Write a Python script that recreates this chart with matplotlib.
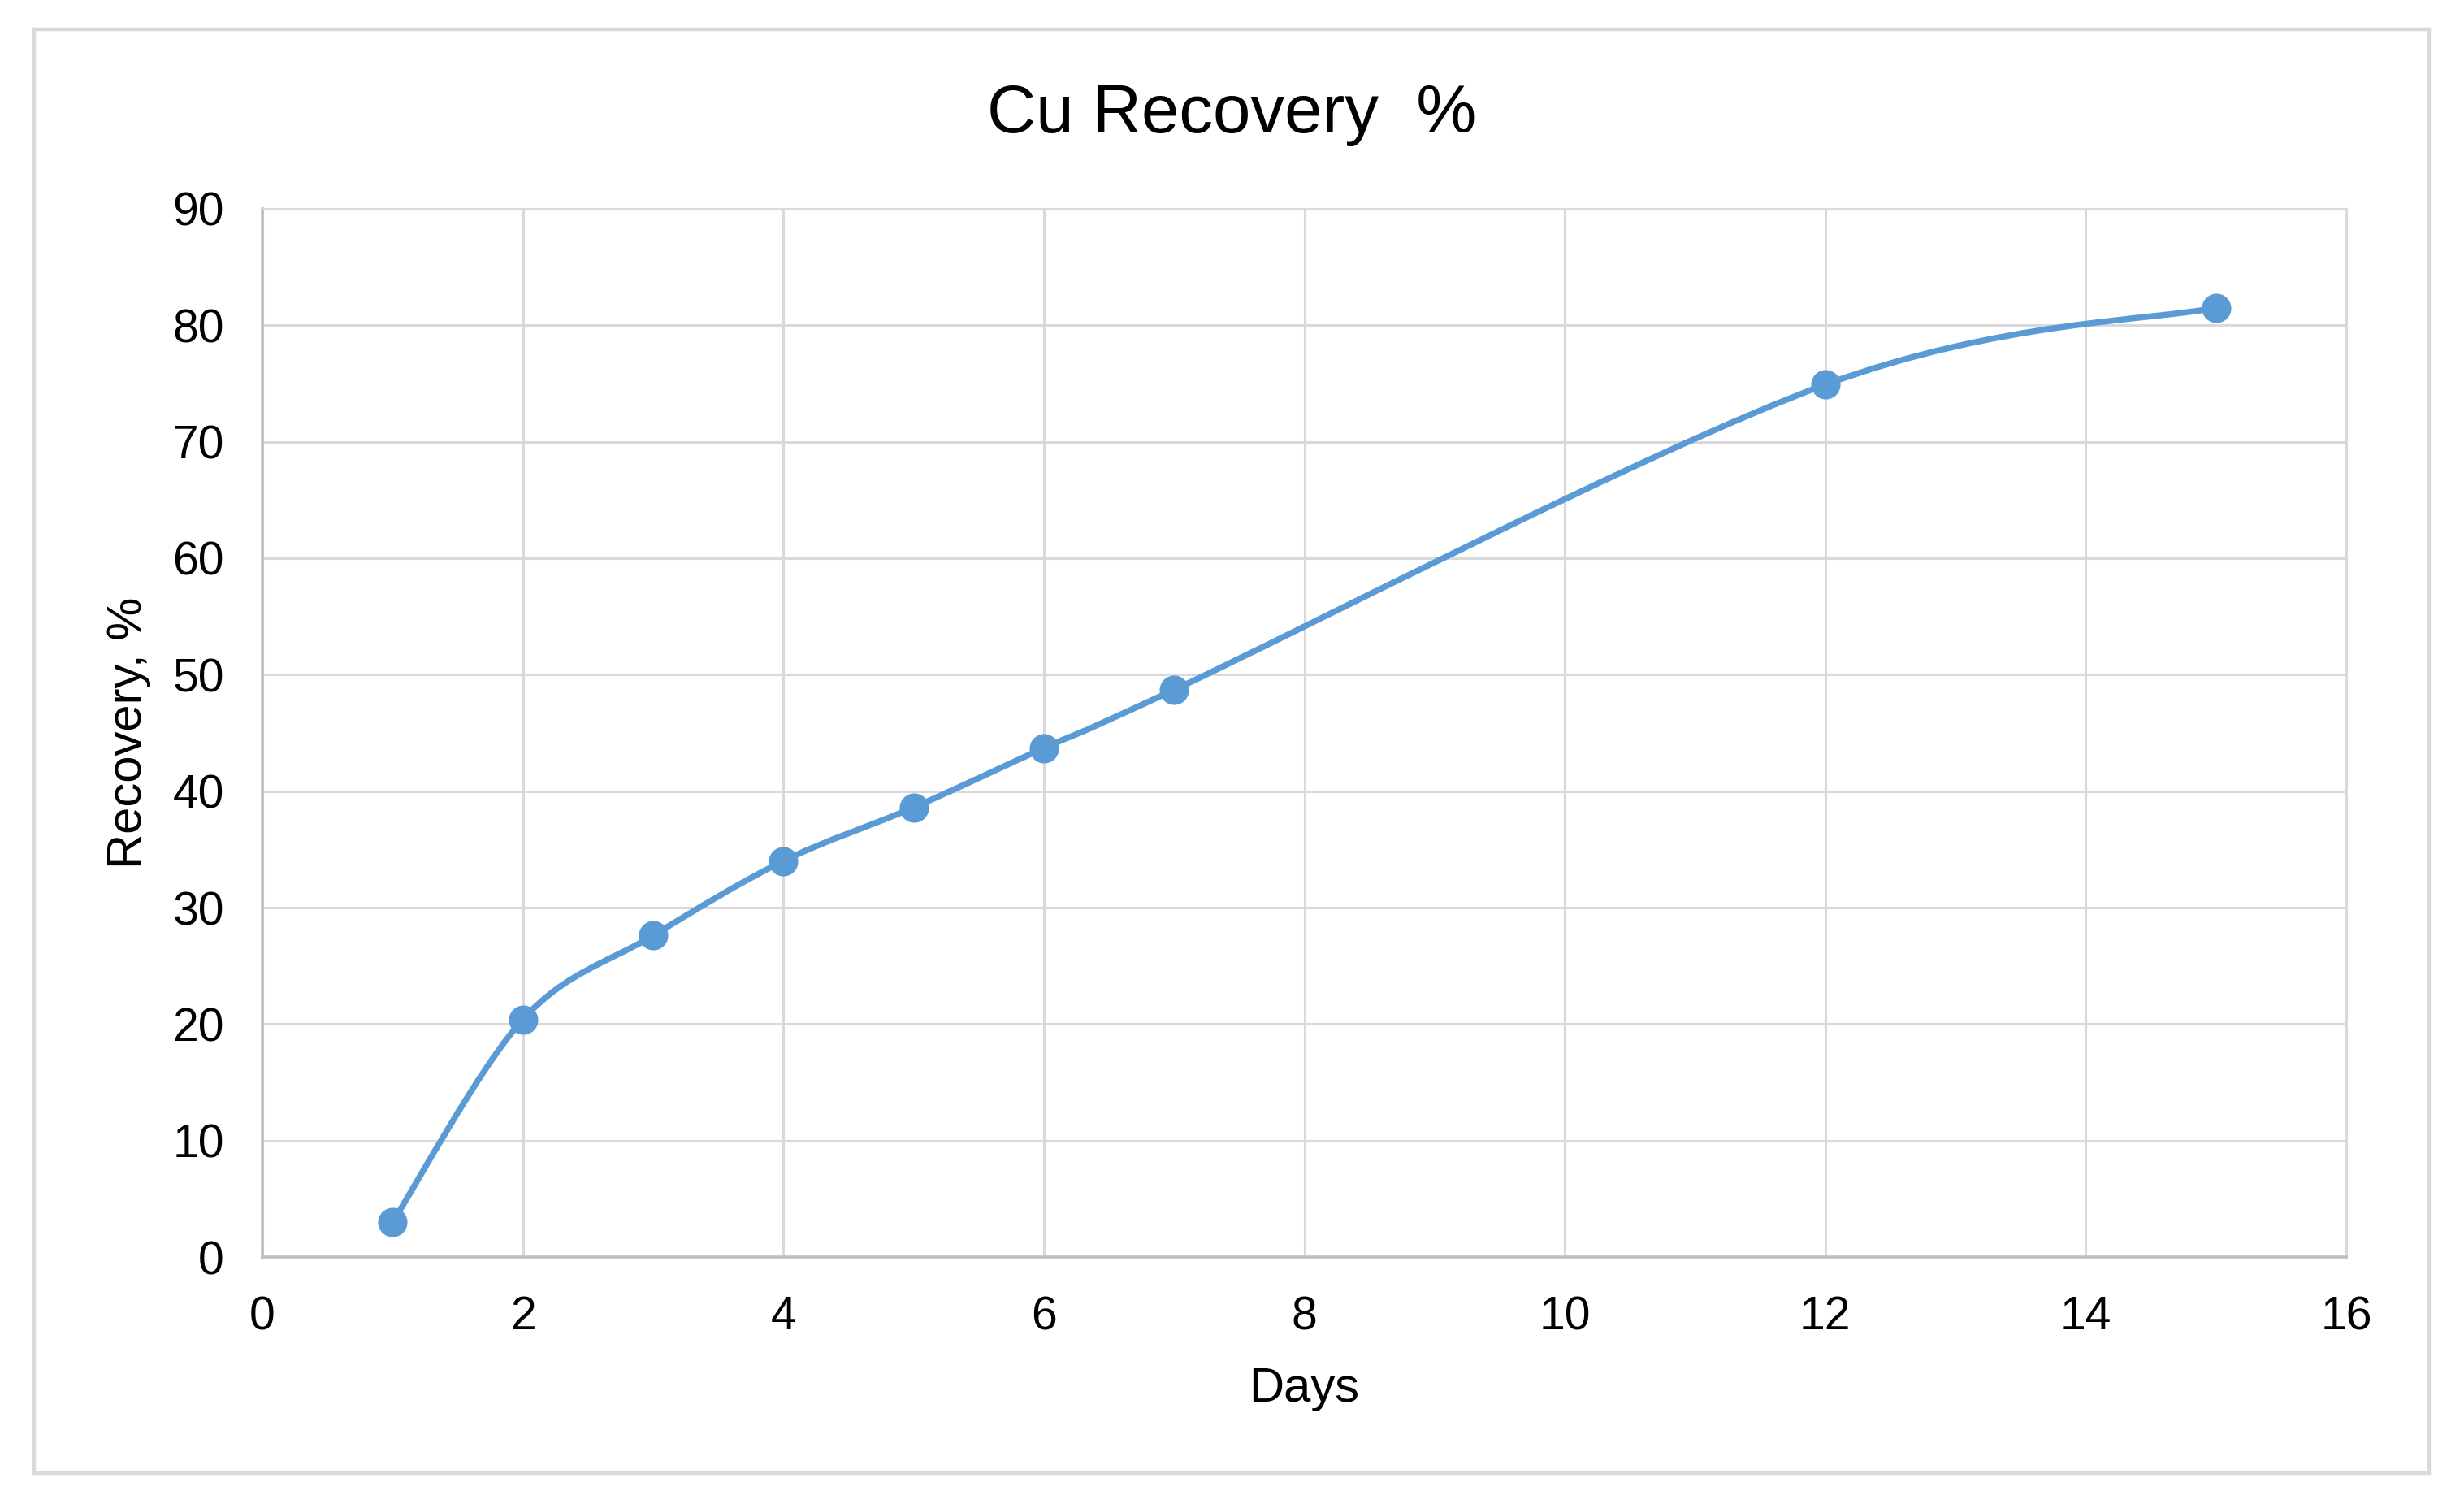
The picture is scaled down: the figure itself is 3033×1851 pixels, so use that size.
"""Cu recovery vs. leaching days, smoothed line with markers (Excel style)."""

import matplotlib
matplotlib.use("Agg")
import matplotlib.pyplot as plt
import numpy as np
from matplotlib.patches import PathPatch, Rectangle
from matplotlib.path import Path

plt.rcParams["font.family"] = ["Liberation Sans", "DejaVu Sans"]

# data
days = [1, 2, 3, 4, 5, 6, 7, 12, 15]
recovery = [3.0, 20.4, 27.6, 34.0, 38.6, 43.7, 48.7, 74.9, 81.5]

x_ticks = [0, 2, 4, 6, 8, 10, 12, 14, 16]
y_ticks = [0, 10, 20, 30, 40, 50, 60, 70, 80, 90]

LINE_BLUE = "#5B9BD5"
GRID_GREY = "#D9D9D9"


def smooth_path(xs, ys):
    """Catmull-Rom style bezier through the points (similar to Excel's smoothed line)."""
    pts = np.column_stack([xs, ys]).astype(float)
    verts = [pts[0]]
    codes = [Path.MOVETO]
    n = len(pts)
    for i in range(n - 1):
        p0 = pts[max(i - 1, 0)]
        p1 = pts[i]
        p2 = pts[i + 1]
        p3 = pts[min(i + 2, n - 1)]
        c1 = p1 + (p2 - p0) / 6.0
        c2 = p2 - (p3 - p1) / 6.0
        verts += [c1, c2, p2]
        codes += [Path.CURVE4] * 3
    return Path(verts, codes)


fig = plt.figure(figsize=(15.165, 9.255), dpi=200)
ax = fig.add_axes([0.1065, 0.1642, 0.8457, 0.6970])

# outer chart frame
fig.patches.append(Rectangle((0.014, 0.0205), 0.9718, 0.9600, transform=fig.transFigure,
                             fill=False, edgecolor=GRID_GREY, linewidth=1.6))

ax.add_patch(PathPatch(smooth_path(days, recovery), facecolor="none",
                       edgecolor=LINE_BLUE, linewidth=2.7, zorder=3, capstyle="round"))
ax.plot(days, recovery, linestyle="none", marker="o", markersize=12,
        color=LINE_BLUE, zorder=4)

ax.set_xlim(0, 16)
ax.set_ylim(0, 90)
ax.set_xticks(x_ticks)
ax.set_yticks(y_ticks)
ax.tick_params(axis="both", length=0, labelsize=20.5)
ax.tick_params(axis="y", pad=17)
ax.tick_params(axis="x", pad=17)
ax.grid(True, color=GRID_GREY, linewidth=1.1)
ax.set_axisbelow(True)
for side in ["top", "right"]:
    ax.spines[side].set_color(GRID_GREY)
    ax.spines[side].set_linewidth(1.1)
for side in ["bottom", "left"]:
    ax.spines[side].set_color("#BFBFBF")
    ax.spines[side].set_linewidth(1.3)

fig.text(0.5, 0.912, "Cu Recovery  %", ha="center", va="baseline", fontsize=30)
fig.text(0.5292, 0.068, "Days", ha="center", va="baseline", fontsize=21.5)
fig.text(0.0524, 0.5128, "Recovery, %", ha="center", va="center", rotation=90,
         fontsize=21.5)

fig.savefig("out.png", dpi=200, facecolor="white")
